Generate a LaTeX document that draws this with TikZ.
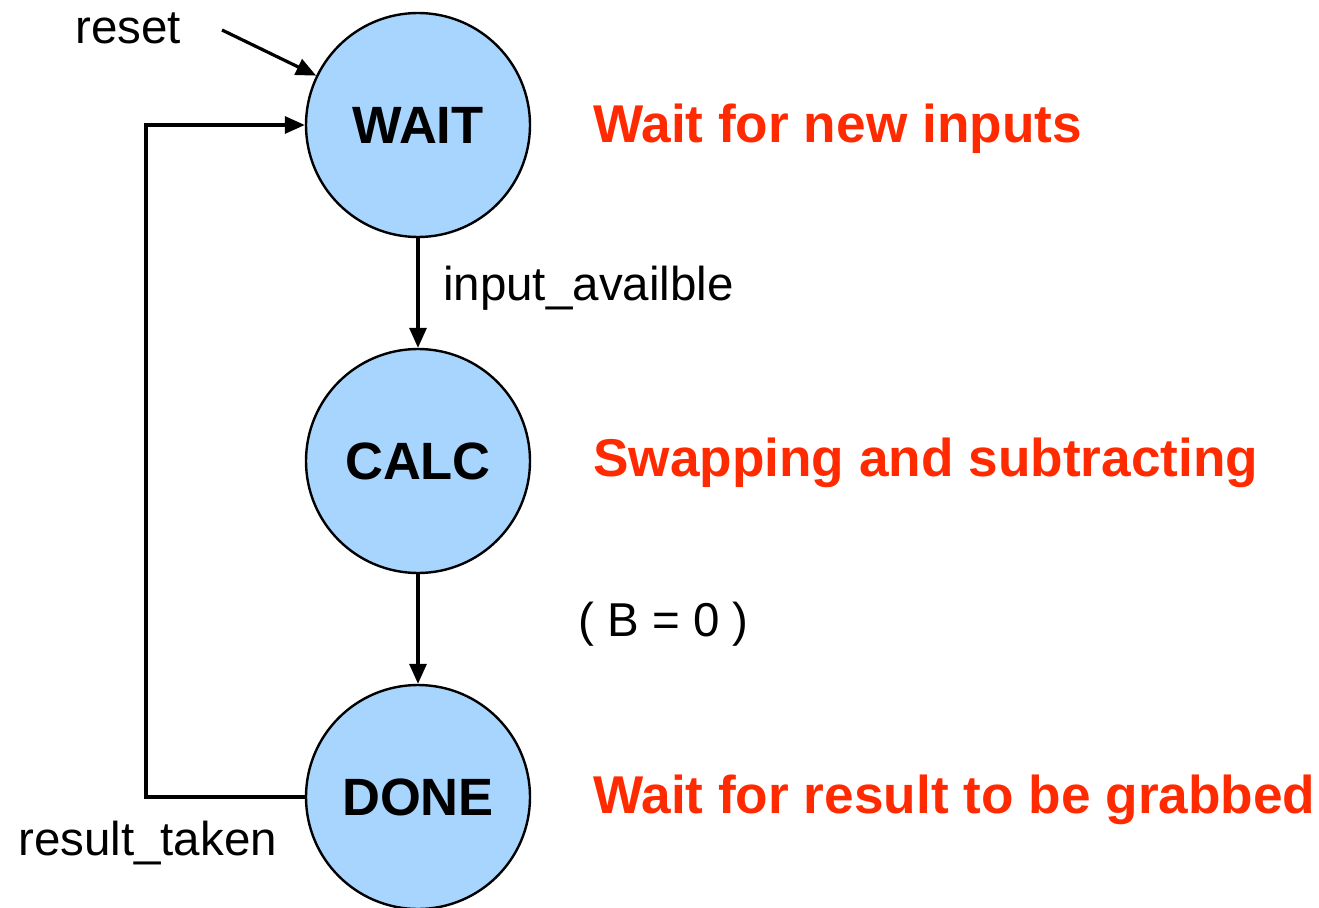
\documentclass[tikz,border=0pt]{standalone}
\usepackage{fontspec}
\setmainfont{Liberation Sans}
\usetikzlibrary{arrows.meta}
\definecolor{stfill}{HTML}{A8D5FE}
\definecolor{redtxt}{HTML}{FF2A00}
\begin{document}
\begin{tikzpicture}[x=1pt,y=-1pt,
  state/.style={circle,draw=black,line width=2.4pt,fill=stfill,minimum size=224pt,inner sep=0pt,
     font=\fontsize{52.5}{60}\selectfont\bfseries},
  conn/.style={line width=3.2pt,-{Triangle[length=20pt,width=17pt]}},
  lbl/.style={anchor=base west,inner sep=0pt,font=\fontsize{47.5}{56}\selectfont},
  note/.style={anchor=base west,inner sep=0pt,text=redtxt,font=\fontsize{53.2}{60}\selectfont\bfseries}]
\useasboundingbox (0,0) rectangle (1319,907);
\node[state] (WAIT) at (418,125) {WAIT};
\node[state] (CALC) at (418,461) {CALC};
\node[state] (DONE) at (418,797) {DONE};
\coordinate (rs) at (222,30);
\draw[conn] (rs) -- (WAIT);
\draw[conn] (WAIT) -- (CALC);
\draw[conn] (CALC) -- (DONE);
\draw[conn] (DONE.west) -| (146,125) -- (WAIT.west);
\node[lbl] (lreset) at (75,44) {reset};
\node[lbl] (linput) at (443,300) {input\_availble};
\node[lbl] (lb) at (578,636) {( B = 0 )};
\node[lbl] (lres) at (18,855) {result\_taken};
\node[note] (n1) at (593,142) {Wait for new inputs};
\node[note] (n2) at (593,476) {Swapping and subtracting};
\node[note] (n3) at (593,813) {Wait for result to be grabbed};
\end{tikzpicture}
\end{document}
